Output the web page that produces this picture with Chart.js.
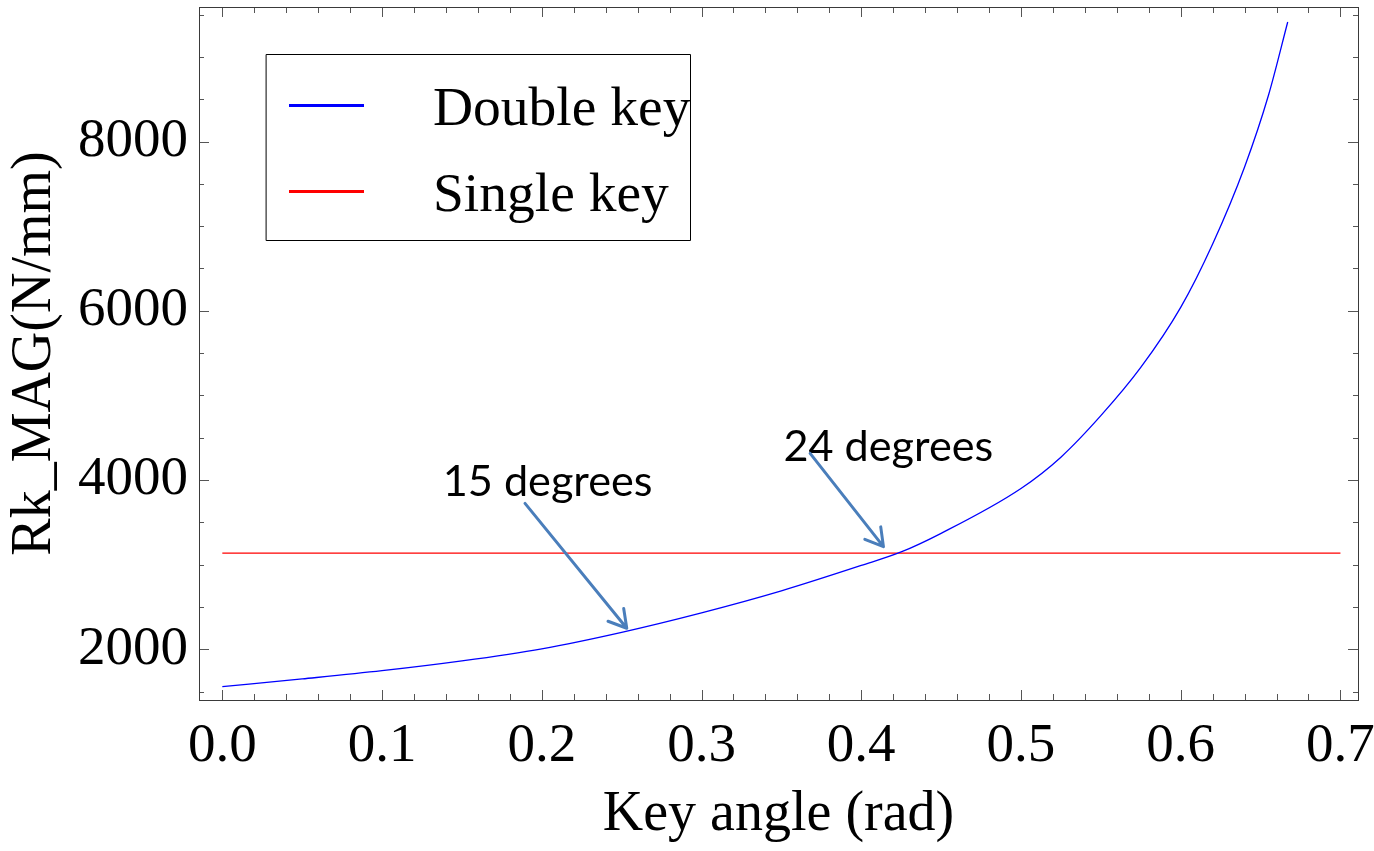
<!DOCTYPE html>
<html>
<head>
<meta charset="utf-8">
<title>Rk_MAG vs key angle</title>
<script src="https://cdn.jsdelivr.net/npm/chart.js@4.4.1/dist/chart.umd.min.js"></script>
<style>
  html, body { margin: 0; padding: 0; background: #ffffff; }
  #wrap { width: 1374px; height: 851px; position: relative; }
</style>
</head>
<body>
<div id="wrap"><canvas id="chart" width="1374" height="851"></canvas></div>
<script>
// Double-key stiffness against key angle (rad)
const keyAngle  = [0, 0.05, 0.1, 0.15, 0.2, 0.25, 0.3, 0.35, 0.4, 0.425, 0.45, 0.5, 0.525, 0.55, 0.575, 0.6, 0.62, 0.64, 0.655, 0.667];
const doubleKey = [1558, 1649, 1746, 1862, 2005, 2200, 2430, 2690, 2990, 3150, 3370, 3900, 4270, 4760, 5330, 6040, 6790, 7700, 8550, 9413];

// Single-key stiffness is constant over the angle range
const singleKeyAngle = [0, 0.7];
const singleKey      = [3135, 3135];

const seriesNames = ['Double key', 'Single key'];

// Axis ticks and their labels
const xTicks      = [0, 0.1, 0.2, 0.3, 0.4, 0.5, 0.6, 0.7];
const xTickLabels = ['0.0', '0.1', '0.2', '0.3', '0.4', '0.5', '0.6', '0.7'];
const yTicks      = [2000, 4000, 6000, 8000];
const yTickLabels = ['2000', '4000', '6000', '8000'];

// Callout texts with arrows (data coordinates)
const noteTexts = ['15 degrees', '24 degrees'];
const noteLayout = [
  { textX: 0.138,  textY: 3814, tailX: 0.1895, tailY: 3724, tipX: 0.2532, tipY: 2248 },
  { textX: 0.3513, textY: 4224, tailX: 0.368,  tailY: 4315, tipX: 0.4139, tipY: 3212 }
];

const SERIF = '"Liberation Serif", "Times New Roman", serif';
const NOTE_FONT = 'Lato, "Open Sans", sans-serif';

const toPoints = (xs, ys) => xs.map((x, i) => ({ x: x, y: ys[i] }));

// Frame, inward ticks on all four sides, legend box and callouts
const framePlugin = {
  id: 'frameDecor',
  afterDatasetsDraw(chart) {
    const { ctx, chartArea: a, scales: { x, y } } = chart;
    ctx.save();

    // inward tick marks
    ctx.strokeStyle = '#555555';
    ctx.lineWidth = 1;
    ctx.beginPath();
    for (let k = 0; k <= 35; k++) {
      const v = k * 0.02;
      const px = Math.round(x.getPixelForValue(v)) + 0.5;
      const len = (k % 5 === 0) ? 10 : 6;
      ctx.moveTo(px, a.bottom); ctx.lineTo(px, a.bottom - len);
      ctx.moveTo(px, a.top);    ctx.lineTo(px, a.top + len);
    }
    for (let v = 1500; v <= 9500; v += 500) {
      const py = Math.round(y.getPixelForValue(v)) + 0.5;
      const len = (v % 2000 === 0) ? 10 : 5;
      ctx.moveTo(a.left, py);  ctx.lineTo(a.left + len, py);
      ctx.moveTo(a.right, py); ctx.lineTo(a.right - len, py);
    }
    ctx.stroke();

    // plot frame
    ctx.strokeStyle = '#3a3a3a';
    ctx.lineWidth = 1;
    ctx.strokeRect(Math.round(a.left) + 0.5, Math.round(a.top) + 0.5,
                   Math.round(a.right - a.left), Math.round(a.bottom - a.top));

    // callouts
    noteLayout.forEach((n, i) => {
      const tx = x.getPixelForValue(n.textX), ty = y.getPixelForValue(n.textY);
      ctx.fillStyle = '#000000';
      ctx.font = '100px ' + NOTE_FONT;
      const w100 = ctx.measureText(noteTexts[i]).width;
      const size = 100 * 210 / w100;
      ctx.font = size.toFixed(1) + 'px ' + NOTE_FONT;
      ctx.textAlign = 'left';
      ctx.textBaseline = 'alphabetic';
      ctx.fillText(noteTexts[i], tx, ty);

      const x0 = x.getPixelForValue(n.tailX), y0 = y.getPixelForValue(n.tailY);
      const x1 = x.getPixelForValue(n.tipX),  y1 = y.getPixelForValue(n.tipY);
      ctx.strokeStyle = '#4a7ebb';
      ctx.lineWidth = 3;
      ctx.lineCap = 'round';
      ctx.lineJoin = 'round';
      ctx.beginPath();
      ctx.moveTo(x0, y0); ctx.lineTo(x1, y1);
      const ang = Math.atan2(y0 - y1, x0 - x1);
      const hl = 20, spread = 0.53;
      ctx.moveTo(x1 + hl * Math.cos(ang - spread), y1 + hl * Math.sin(ang - spread));
      ctx.lineTo(x1, y1);
      ctx.lineTo(x1 + hl * Math.cos(ang + spread), y1 + hl * Math.sin(ang + spread));
      ctx.stroke();
    });

    // legend box
    const bx = 266.5, by = 54.5, bw = 424, bh = 186;
    ctx.fillStyle = '#ffffff';
    ctx.fillRect(bx, by, bw, bh);
    ctx.strokeStyle = '#000000';
    ctx.lineWidth = 1;
    ctx.strokeRect(bx, by, bw, bh);
    ctx.save();
    ctx.beginPath();
    ctx.rect(bx, by, bw, bh);
    ctx.clip();
    const rows = [105.5, 191.5];
    const baselines = [125, 211];
    chart.data.datasets.forEach((ds, i) => {
      ctx.strokeStyle = ds.borderColor;
      ctx.lineWidth = 3;
      ctx.lineCap = 'butt';
      ctx.beginPath();
      ctx.moveTo(289, rows[i]); ctx.lineTo(364, rows[i]);
      ctx.stroke();
      ctx.fillStyle = '#000000';
      ctx.font = '55.5px ' + SERIF;
      ctx.textAlign = 'left';
      ctx.textBaseline = 'alphabetic';
      ctx.fillText(ds.label, 433, baselines[i]);
    });
    ctx.restore();

    ctx.restore();
  }
};

new Chart(document.getElementById('chart'), {
  type: 'line',
  data: {
    datasets: [
      {
        label: seriesNames[0],
        data: toPoints(keyAngle, doubleKey),
        borderColor: '#0000ff',
        borderWidth: 1.3,
        pointRadius: 0,
        fill: false,
        cubicInterpolationMode: 'monotone'
      },
      {
        label: seriesNames[1],
        data: toPoints(singleKeyAngle, singleKey),
        borderColor: '#ff0000',
        borderWidth: 1.3,
        pointRadius: 0,
        fill: false
      }
    ]
  },
  options: {
    responsive: false,
    devicePixelRatio: 1,
    animation: false,
    layout: { padding: { top: 7, right: 16, left: 0, bottom: 0 } },
    plugins: { legend: { display: false }, tooltip: { enabled: false } },
    scales: {
      x: {
        type: 'linear',
        min: -0.0146,
        max: 0.711,
        grid: { display: false, drawTicks: false },
        border: { display: false },
        afterBuildTicks: s => { s.ticks = xTicks.map(v => ({ value: v })); },
        afterFit: s => { s.height = 151; s.paddingLeft = 0; s.paddingRight = 0; },
        ticks: {
          autoSkip: false,
          maxRotation: 0,
          padding: 14,
          color: '#000000',
          font: { family: SERIF, size: 55 },
          callback: (v, i) => xTickLabels[i]
        },
        title: {
          display: true,
          text: 'Key angle (rad)',
          color: '#000000',
          font: { family: SERIF, size: 56, lineHeight: 1 },
          padding: { top: 0, bottom: 8 }
        }
      },
      y: {
        type: 'linear',
        min: 1400,
        max: 9590,
        grid: { display: false, drawTicks: false },
        border: { display: false },
        afterBuildTicks: s => { s.ticks = yTicks.map(v => ({ value: v })); },
        afterFit: s => { s.width = 199; s.paddingTop = 0; s.paddingBottom = 0; },
        ticks: {
          autoSkip: false,
          padding: 11,
          color: '#000000',
          font: { family: SERIF, size: 55 },
          callback: (v, i) => yTickLabels[i]
        },
        title: {
          display: true,
          text: 'Rk_MAG(N/mm)',
          color: '#000000',
          font: { family: SERIF, size: 56, lineHeight: 1 },
          padding: { top: 7, bottom: 0 }
        }
      }
    }
  },
  plugins: [framePlugin]
});
</script>
</body>
</html>
